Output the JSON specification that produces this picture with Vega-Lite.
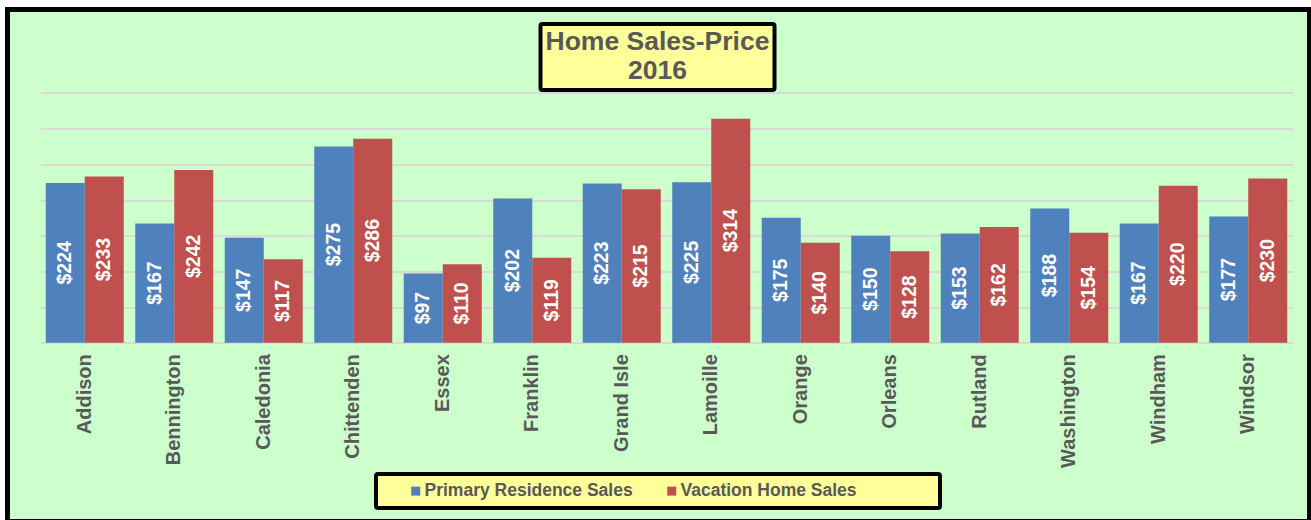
{
  "$schema": "https://vega.github.io/schema/vega-lite/v6.json",
  "width": 1302,
  "height": 512,
  "autosize": {"type": "none"},
  "padding": {"left": 7.5, "top": 9.5, "right": 1.5, "bottom": 0},
  "background": "#FFFFFF",
  "config": {
    "font": "Liberation Sans",
    "view": {"fill": "#CCFFCC", "stroke": "#000000", "strokeWidth": 5},
    "legend": {"strokeWidth": 4}
  },
  "data": {
    "values": [
      {"county": "Addison", "series": "Primary Residence Sales", "value": 224},
      {"county": "Addison", "series": "Vacation Home Sales", "value": 233},
      {"county": "Bennington", "series": "Primary Residence Sales", "value": 167},
      {"county": "Bennington", "series": "Vacation Home Sales", "value": 242},
      {"county": "Caledonia", "series": "Primary Residence Sales", "value": 147},
      {"county": "Caledonia", "series": "Vacation Home Sales", "value": 117},
      {"county": "Chittenden", "series": "Primary Residence Sales", "value": 275},
      {"county": "Chittenden", "series": "Vacation Home Sales", "value": 286},
      {"county": "Essex", "series": "Primary Residence Sales", "value": 97},
      {"county": "Essex", "series": "Vacation Home Sales", "value": 110},
      {"county": "Franklin", "series": "Primary Residence Sales", "value": 202},
      {"county": "Franklin", "series": "Vacation Home Sales", "value": 119},
      {"county": "Grand Isle", "series": "Primary Residence Sales", "value": 223},
      {"county": "Grand Isle", "series": "Vacation Home Sales", "value": 215},
      {"county": "Lamoille", "series": "Primary Residence Sales", "value": 225},
      {"county": "Lamoille", "series": "Vacation Home Sales", "value": 314},
      {"county": "Orange", "series": "Primary Residence Sales", "value": 175},
      {"county": "Orange", "series": "Vacation Home Sales", "value": 140},
      {"county": "Orleans", "series": "Primary Residence Sales", "value": 150},
      {"county": "Orleans", "series": "Vacation Home Sales", "value": 128},
      {"county": "Rutland", "series": "Primary Residence Sales", "value": 153},
      {"county": "Rutland", "series": "Vacation Home Sales", "value": 162},
      {"county": "Washington", "series": "Primary Residence Sales", "value": 188},
      {"county": "Washington", "series": "Vacation Home Sales", "value": 154},
      {"county": "Windham", "series": "Primary Residence Sales", "value": 167},
      {"county": "Windham", "series": "Vacation Home Sales", "value": 220},
      {"county": "Windsor", "series": "Primary Residence Sales", "value": 177},
      {"county": "Windsor", "series": "Vacation Home Sales", "value": 230}
    ]
  },
  "encoding": {
    "x": {
      "field": "county",
      "type": "nominal",
      "sort": null,
      "scale": {"range": [32.5, 1285.5], "paddingInner": 0.1285, "paddingOuter": 0.06425},
      "axis": {
        "title": null,
        "orient": "bottom",
        "offset": -178.8,
        "domain": false,
        "ticks": false,
        "labelAngle": -90,
        "labelPadding": 11,
        "labelFontSize": 20,
        "labelFontWeight": "bold",
        "labelColor": "#595959",
        "labelFont": "Liberation Sans"
      }
    },
    "xOffset": {"field": "series", "type": "nominal", "scale": {"paddingInner": 0, "paddingOuter": 0}}
  },
  "layer": [
    {
      "mark": {"type": "bar", "strokeWidth": 0},
      "encoding": {
        "y": {
          "field": "value",
          "type": "quantitative",
          "scale": {"domain": [-250.6, 467], "nice": false, "zero": false},
          "axis": {
            "title": null,
            "values": [0, 50, 100, 150, 200, 250, 300, 350],
            "labels": false,
            "ticks": false,
            "domain": false,
            "grid": true,
            "gridColor": "#D9D9D9",
            "gridWidth": 2
          }
        },
        "color": {
          "field": "series",
          "type": "nominal",
          "scale": {"domain": ["Primary Residence Sales", "Vacation Home Sales"], "range": ["#4F81BD", "#C0504D"]},
          "legend": {
            "title": "\u00a0",
            "titleOrient": "right",
            "titlePadding": 75,
            "titleFontSize": 10,
            "orient": "none",
            "legendX": 368.5,
            "legendY": 464.5,
            "direction": "horizontal",
            "symbolType": "square",
            "symbolSize": 81,
            "symbolStrokeWidth": 0,
            "symbolOffset": 23,
            "labelFontSize": 17.5,
            "labelFontWeight": "bold",
            "labelColor": "#595959",
            "labelFont": "Liberation Sans",
            "labelOffset": 0,
            "labelLimit": 400,
            "columnPadding": 7,
            "gridAlign": "all",
            "padding": 8,
            "fillColor": "#FFFF99",
            "strokeColor": "#000000",
            "cornerRadius": 2
          }
        },
        "strokeDash": {
          "datum": "title",
          "type": "nominal",
          "scale": {"range": [[1, 0]]},
          "legend": {
            "title": ["Home Sales-Price", "2016"],
            "orient": "none",
            "legendX": 533,
            "legendY": 14.5,
            "titleFontSize": 26.5,
            "titleFontWeight": "bold",
            "titleColor": "#595959",
            "titleFont": "Liberation Sans",
            "titleAlign": "center",
            "titleAnchor": "middle",
            "titleLineHeight": 29,
            "titlePadding": 0,
            "titleLimit": 400,
            "symbolSize": 0,
            "symbolOpacity": 0,
            "symbolStrokeWidth": 0,
            "labelExpr": "''",
            "labelFontSize": 1,
            "labelOpacity": 0,
            "padding": 5,
            "fillColor": "#FFFF99",
            "strokeColor": "#000000",
            "cornerRadius": 2
          }
        }
      }
    },
    {
      "mark": {
        "type": "text",
        "angle": 270,
        "align": "center",
        "baseline": "middle",
        "color": "#FFFFFF",
        "fontSize": 19.5,
        "fontWeight": "bold",
        "font": "Liberation Sans"
      },
      "encoding": {
        "y": {
          "field": "value",
          "type": "quantitative",
          "scale": {"domain": [-501.2, 934], "nice": false, "zero": false},
          "axis": null
        },
        "text": {"field": "value", "type": "quantitative", "format": "$.0f"}
      }
    }
  ],
  "resolve": {"scale": {"y": "independent"}, "axis": {"y": "independent"}}
}
